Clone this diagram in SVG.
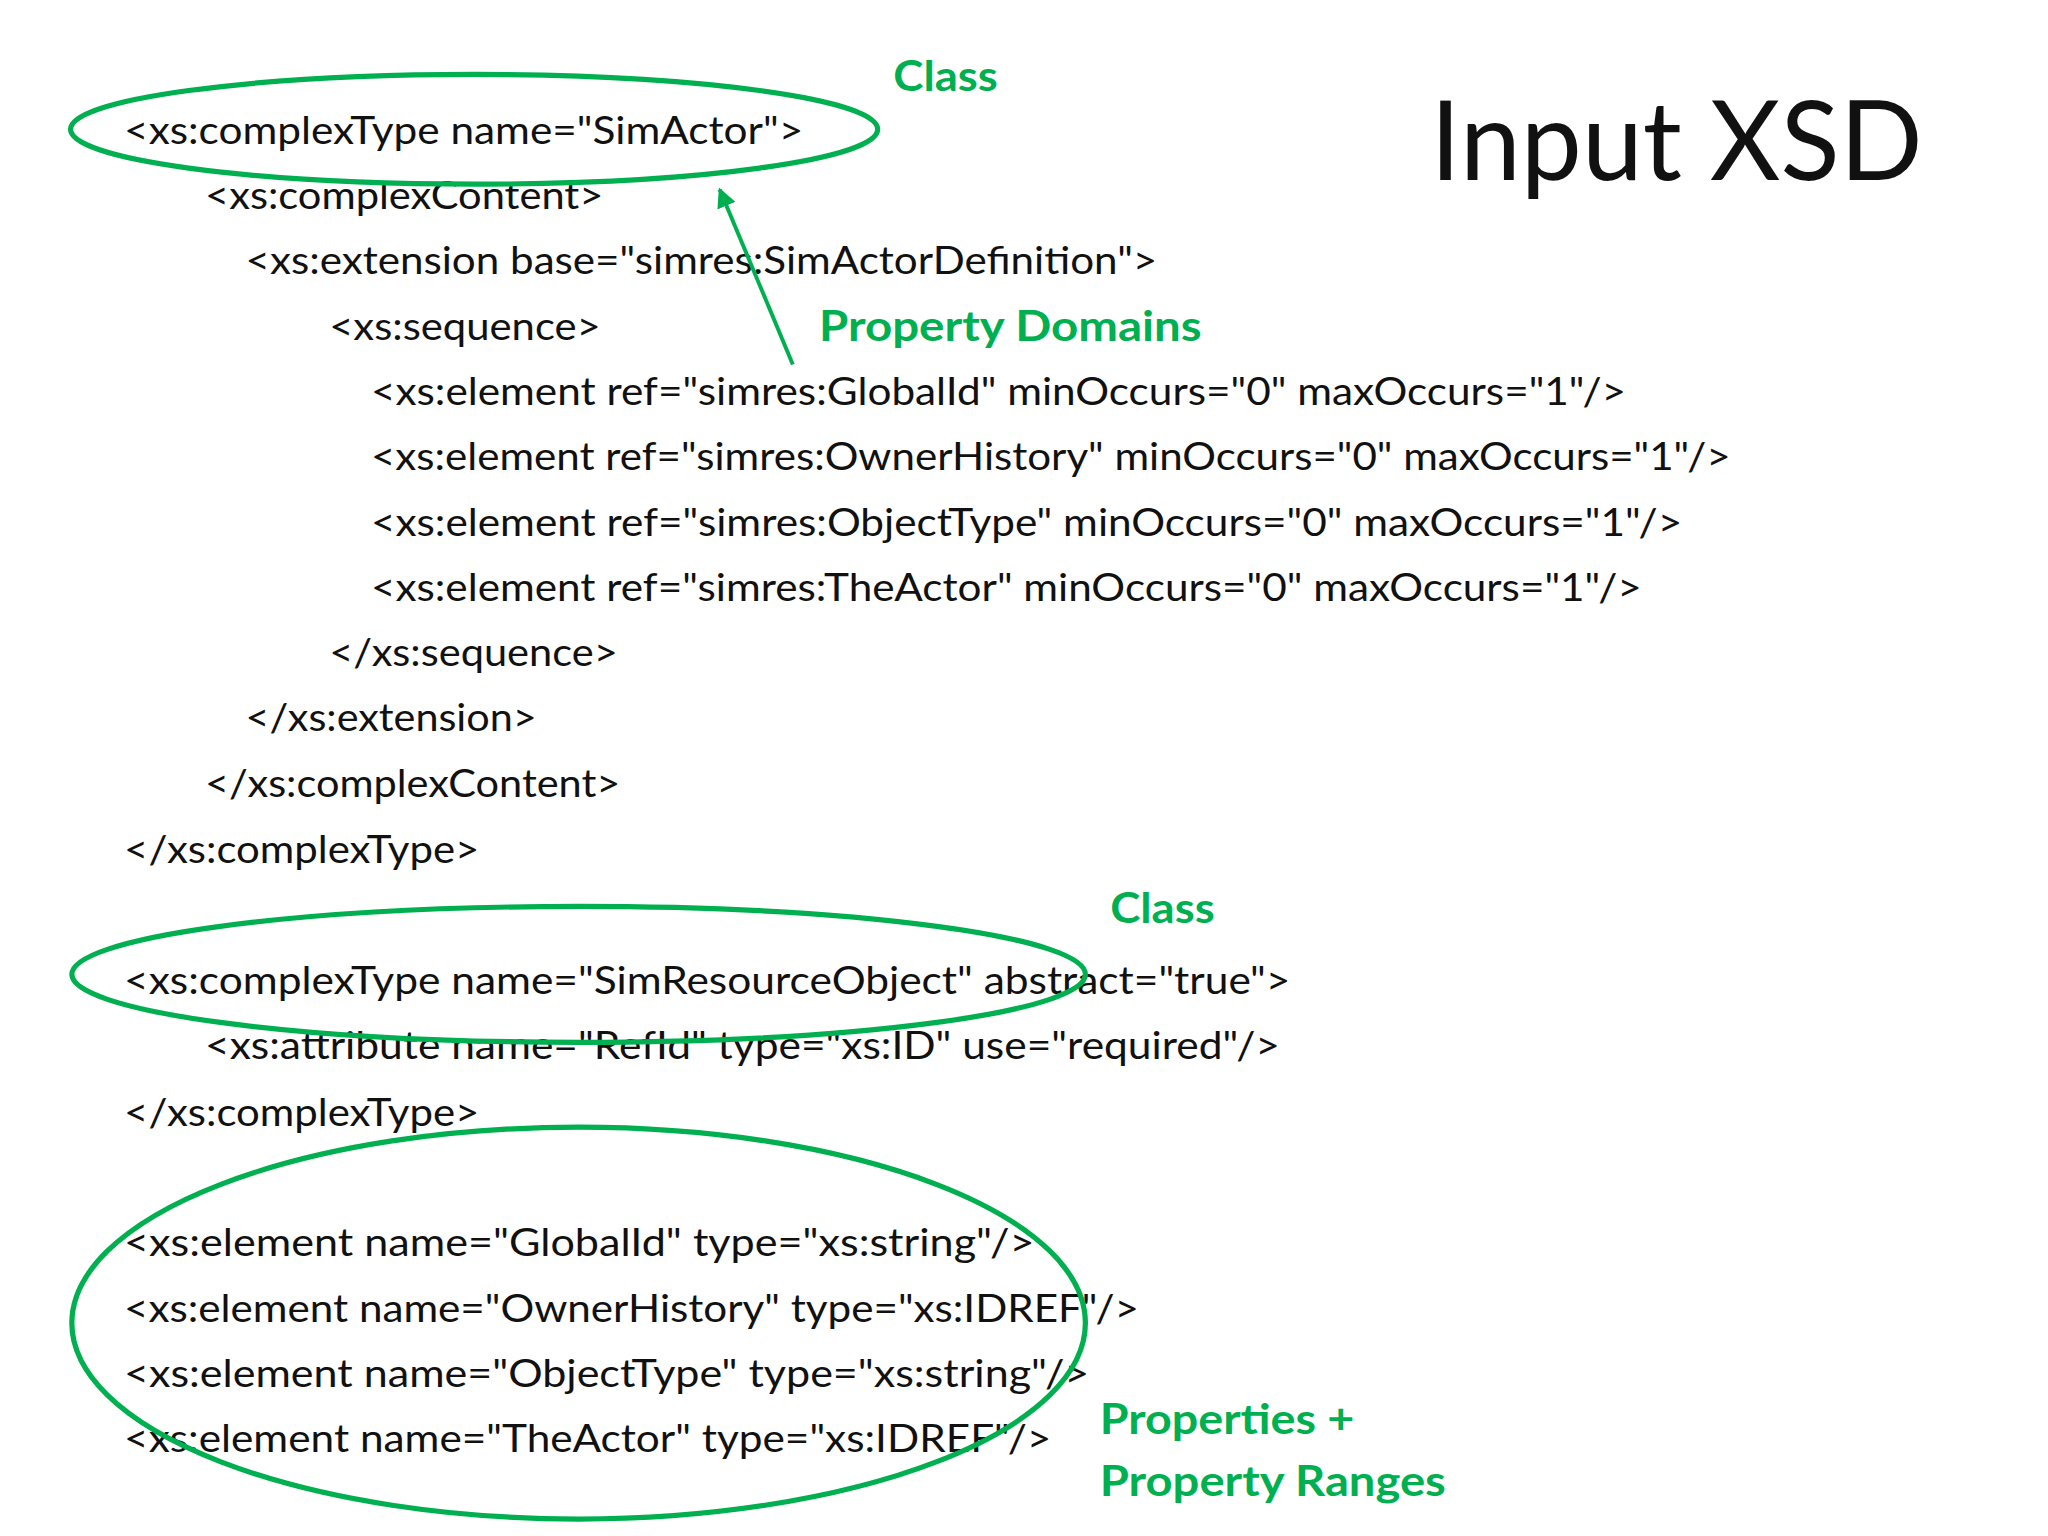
<svg xmlns="http://www.w3.org/2000/svg" width="2048" height="1536" viewBox="0 0 2048 1536">
<style>
.c{font-family:Lato,"Open Sans",sans-serif;font-size:29px;fill:#111}
.g{font-family:Lato,"Open Sans",sans-serif;font-size:32px;font-weight:bold;fill:#00B050}
.e{fill:none;stroke:#00B050;stroke-width:4}
</style>
<defs><marker id="ah" viewBox="0 0 10 10" refX="9" refY="5" markerWidth="5" markerHeight="5" orient="auto"><path d="M0,0L10,5L0,10z" fill="#00B050"/></marker></defs>
<rect width="2048" height="1536" fill="#fff"/>
<g transform="scale(1.30612)">
<g id="code">
<text class="c" x="95" y="110" textLength="520" lengthAdjust="spacingAndGlyphs">&lt;xs:complexType name="SimActor"&gt;</text>
<text class="c" x="157" y="160" textLength="305" lengthAdjust="spacingAndGlyphs">&lt;xs:complexContent&gt;</text>
<text class="c" x="188" y="210" textLength="698" lengthAdjust="spacingAndGlyphs">&lt;xs:extension base="simres:SimActorDefinition"&gt;</text>
<text class="c" x="252" y="260" textLength="208" lengthAdjust="spacingAndGlyphs">&lt;xs:sequence&gt;</text>
<text class="c" x="284" y="310" textLength="961" lengthAdjust="spacingAndGlyphs">&lt;xs:element ref="simres:GlobalId" minOccurs="0" maxOccurs="1"/&gt;</text>
<text class="c" x="284" y="360" textLength="1041" lengthAdjust="spacingAndGlyphs">&lt;xs:element ref="simres:OwnerHistory" minOccurs="0" maxOccurs="1"/&gt;</text>
<text class="c" x="284" y="410" textLength="1004" lengthAdjust="spacingAndGlyphs">&lt;xs:element ref="simres:ObjectType" minOccurs="0" maxOccurs="1"/&gt;</text>
<text class="c" x="284" y="460" textLength="973" lengthAdjust="spacingAndGlyphs">&lt;xs:element ref="simres:TheActor" minOccurs="0" maxOccurs="1"/&gt;</text>
<text class="c" x="252" y="510" textLength="221" lengthAdjust="spacingAndGlyphs">&lt;/xs:sequence&gt;</text>
<text class="c" x="188" y="560" textLength="223" lengthAdjust="spacingAndGlyphs">&lt;/xs:extension&gt;</text>
<text class="c" x="157" y="610" textLength="318" lengthAdjust="spacingAndGlyphs">&lt;/xs:complexContent&gt;</text>
<text class="c" x="95" y="661" textLength="272" lengthAdjust="spacingAndGlyphs">&lt;/xs:complexType&gt;</text>
<text class="c" x="95" y="761" textLength="893" lengthAdjust="spacingAndGlyphs">&lt;xs:complexType name="SimResourceObject" abstract="true"&gt;</text>
<text class="c" x="157" y="811" textLength="823" lengthAdjust="spacingAndGlyphs">&lt;xs:attribute name="RefId" type="xs:ID" use="required"/&gt;</text>
<text class="c" x="95" y="862" textLength="272" lengthAdjust="spacingAndGlyphs">&lt;/xs:complexType&gt;</text>
<text class="c" x="95" y="962" textLength="697" lengthAdjust="spacingAndGlyphs">&lt;xs:element name="GlobalId"  type="xs:string"/&gt;</text>
<text class="c" x="95" y="1012" textLength="777" lengthAdjust="spacingAndGlyphs">&lt;xs:element name="OwnerHistory"  type="xs:IDREF"/&gt;</text>
<text class="c" x="95" y="1062" textLength="739" lengthAdjust="spacingAndGlyphs">&lt;xs:element name="ObjectType"  type="xs:string"/&gt;</text>
<text class="c" x="95" y="1112" textLength="710" lengthAdjust="spacingAndGlyphs">&lt;xs:element name="TheActor"  type="xs:IDREF"/&gt;</text>
</g>
<g id="title"><text x="1095" y="138" style="font-family:Lato,'Open Sans',sans-serif;font-size:84px;fill:#111" textLength="377" lengthAdjust="spacingAndGlyphs">Input XSD</text></g>
<g id="class1"><ellipse class="e" cx="363" cy="99" rx="309" ry="42"/><text class="g" x="684" y="70" textLength="80" lengthAdjust="spacingAndGlyphs">Class</text></g>
<g id="domains"><text class="g" x="627" y="261" textLength="293" lengthAdjust="spacingAndGlyphs">Property Domains</text></g>
<g id="class2"><ellipse class="e" cx="443" cy="746" rx="388" ry="52"/><text class="g" x="850" y="707" textLength="80" lengthAdjust="spacingAndGlyphs">Class</text></g>
<g id="props"><ellipse class="e" cx="443" cy="1013" rx="388" ry="150"/>
<text class="g" x="842" y="1098" textLength="195" lengthAdjust="spacingAndGlyphs">Properties +</text>
<text class="g" x="842" y="1145" textLength="265" lengthAdjust="spacingAndGlyphs">Property Ranges</text></g>
<g id="connectors"><line x1="607" y1="279" x2="551" y2="145" stroke="#00B050" stroke-width="3" marker-end="url(#ah)"/></g>
</g>
</svg>
